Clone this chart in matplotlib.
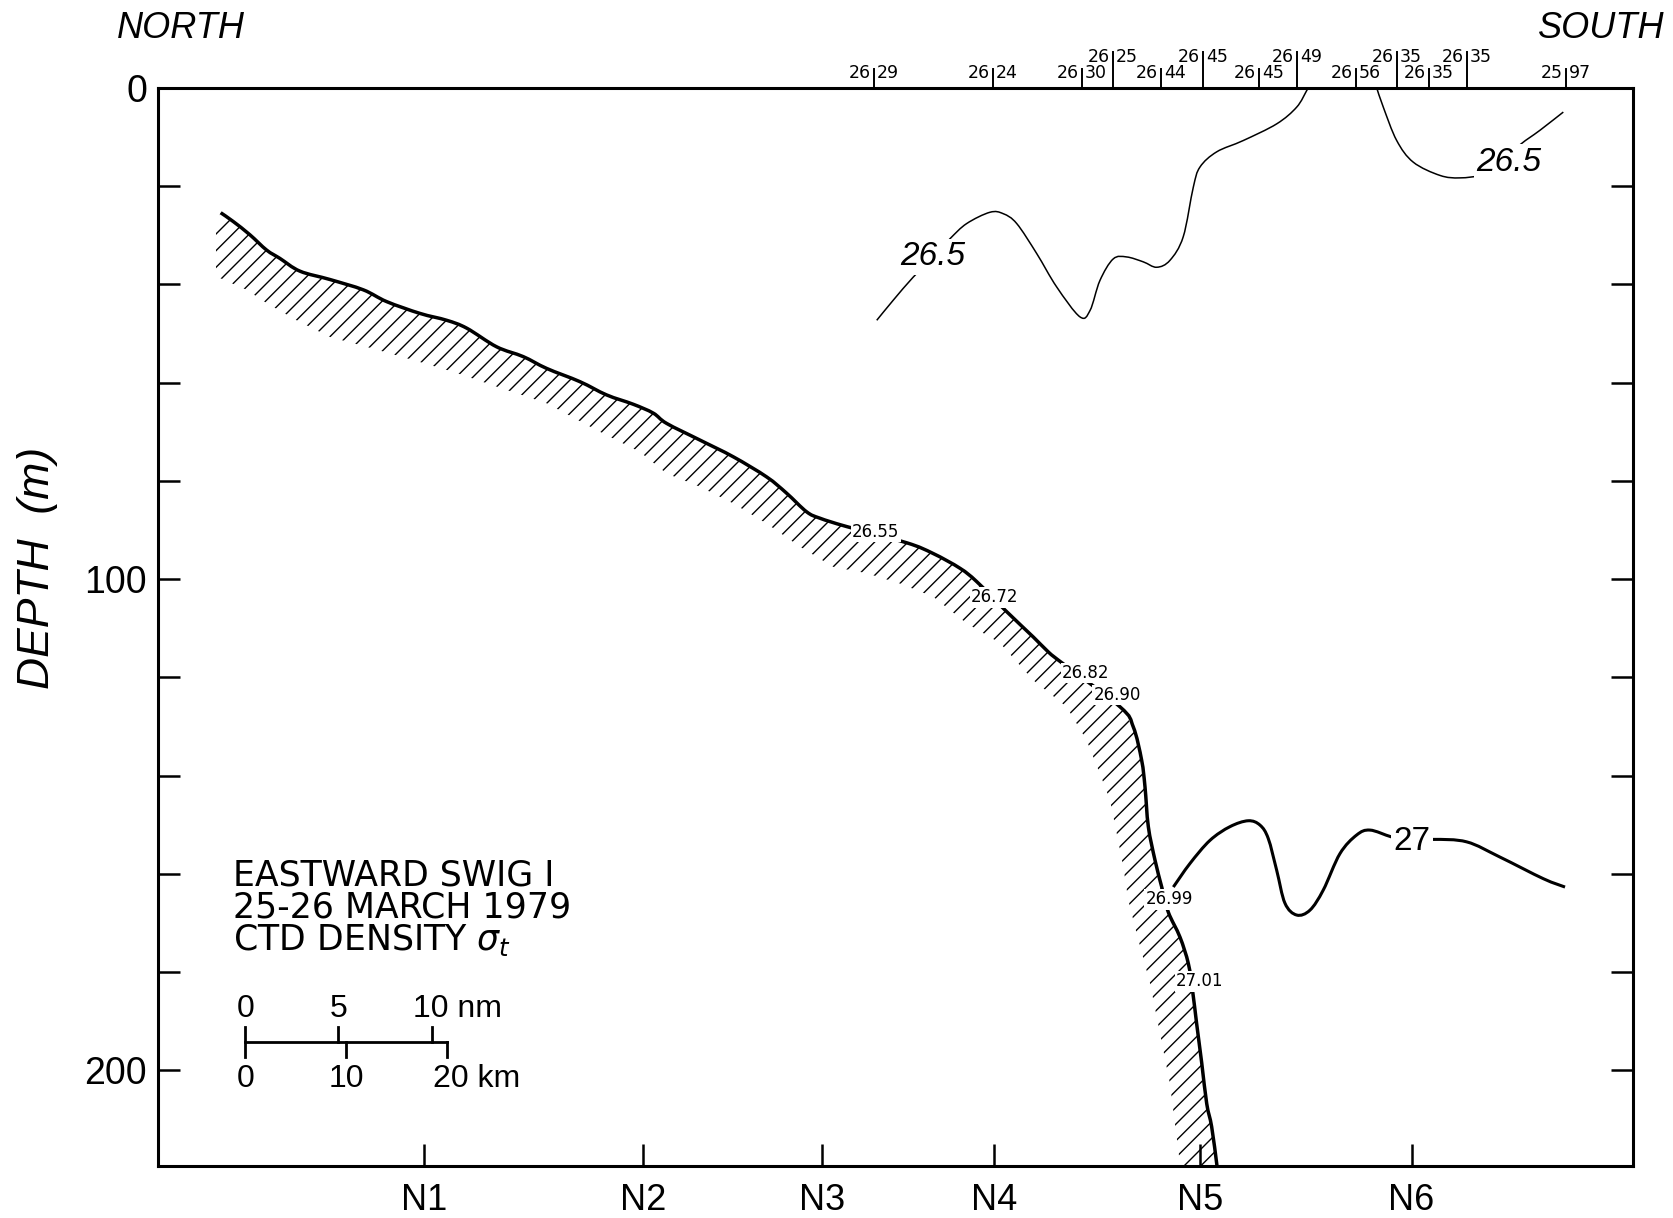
import matplotlib.pyplot as plt
from matplotlib.path import Path
from matplotlib.patches import PathPatch

plt.rcParams['font.family'] = ['DejaVu Sans']
plt.rcParams['hatch.linewidth'] = 1.0
plt.rcParams['mathtext.fontset'] = 'dejavusans'

NARROW = ['Liberation Sans Narrow', 'Liberation Sans', 'DejaVu Sans']

# upper edge of the frontal zone (distance km, depth m)
front_top_km = [6.22, 7.47, 9.12, 10.77, 12.09, 14.08, 17.06, 20.36, 22.68, 25.98,
                28.63, 30.61, 33.58, 36.22, 38.54, 41.84, 44.49, 47.13, 49.11, 50.44,
                53.75, 57.05, 60.36, 62.33, 64.32, 65.64, 68.29, 74.24, 76.88, 79.53,
                81.18, 83.99, 86.80, 88.12, 89.28, 95.39, 96.71, 97.54, 97.87, 98.20,
                98.86, 99.53, 100.18, 101.34, 102.17, 102.60, 102.99, 103.50, 103.99,
                104.48, 104.98, 105.03]
front_top_m = [25.4, 27.2, 29.9, 33.0, 34.7, 37.3, 39.0, 41.1, 43.5, 45.9,
               47.3, 48.9, 52.7, 54.7, 57.1, 59.8, 62.5, 64.4, 66.2, 68.3,
               71.7, 75.1, 79.2, 82.5, 86.3, 87.6, 89.3, 92.6, 94.8, 97.8,
               100.5, 106.3, 111.8, 114.5, 116.5, 126.0, 130.1, 136.9, 142.3, 150.4,
               157.2, 162.7, 167.8, 172.9, 178.3, 184.0, 190.5, 198.6, 206.8,
               211.5, 219.0, 220.0]

# lower edge of the hatched band
front_low_km = [5.75, 5.75, 6.15, 8.80, 10.77, 13.75, 17.06, 20.69, 25.32, 29.28,
                33.58, 38.54, 43.53, 47.79, 50.44, 53.75, 57.05, 60.36, 63.66, 66.96,
                70.27, 73.58, 76.88, 80.19, 83.49, 86.80, 90.10, 92.08, 93.40, 94.40,
                95.07, 95.72, 96.22, 97.05, 98.37, 99.36, 100.34, 101.34, 101.34]
front_low_m = [27.5, 37.1, 38.7, 41.1, 43.8, 47.3, 50.7, 52.7, 55.4, 57.8,
               60.8, 64.2, 69.7, 74.1, 78.5, 81.2, 84.6, 88.7, 93.4, 97.5,
               98.8, 100.9, 103.6, 109.0, 113.0, 120.6, 126.0, 132.8, 139.6, 145.0,
               151.8, 158.6, 165.4, 172.2, 182.3, 192.5, 202.7, 219.0, 220.0]

# sigma-t values written along the front
front_lab_km = [71.19, 82.99, 92.02, 95.09, 100.25, 103.32]
front_lab_m = [90.4, 103.7, 119.1, 123.6, 165.2, 181.9]
front_lab_val = [26.55, 26.72, 26.82, 26.90, 26.99, 27.01]

# 26.5 isopycnal, western branch
iso265a_km = [71.27, 72.91, 74.89, 76.85, 78.53, 80.19, 82.50, 83.82, 85.15, 87.13,
              89.11, 91.42, 92.42, 93.40, 94.72, 96.05, 97.70, 99.03, 100.34, 101.66,
              102.66, 103.32, 104.98, 107.61, 110.93, 112.91, 113.91, 114.06]
iso265a_m = [47.3, 43.2, 38.5, 34.4, 30.7, 27.6, 25.3, 25.6, 27.6, 33.7,
             40.5, 46.6, 45.3, 39.2, 34.8, 34.4, 35.4, 36.5, 35.1, 30.3,
             20.2, 16.1, 13.0, 10.7, 7.3, 3.9, 0.5, 0.0]
# 26.5 isopycnal, eastern branch
iso265b_km = [120.85, 121.50, 122.83, 124.47, 127.12, 129.11, 131.41, 133.97, 134.89,
              137.04, 139.35]
iso265b_m = [0.0, 3.9, 10.7, 15.1, 17.8, 18.3, 17.6, 15.1, 11.9, 8.6, 4.9]
# 27 isopycnal
iso27_km = [100.68, 102.33, 104.31, 106.30, 108.11, 109.28, 110.09, 110.93, 111.75,
            112.91, 114.23, 115.55, 117.20, 118.86, 120.18, 122.33, 124.34, 126.46,
            129.77, 133.07, 137.37, 139.52]
iso27_m = [162.7, 157.9, 153.2, 150.4, 149.2, 150.1, 152.8, 159.3, 166.0,
           168.4, 167.4, 163.3, 155.9, 152.1, 151.1, 152.5, 153.4, 153.0,
           153.5, 156.6, 161.0, 162.7]
iso_labels = [('26.5', 76.85, 34.4), ('26.5', 133.97, 15.1), ('27', 124.34, 153.4)]

# CTD stations and surface sigma-t
station_km = [71.00, 82.80, 91.62, 94.70, 99.46, 103.62, 109.17, 112.94, 118.79,
              122.86, 126.03, 129.80, 139.61]
station_sigma = [26.29, 26.24, 26.30, 26.25, 26.44, 26.45, 26.45, 26.49, 26.56,
                 26.35, 26.35, 26.35, 25.97]
station_raised = [False, False, False, True, False, True, False, True, False,
                  True, False, True, False]

section_km = [26.34, 48.13, 65.80, 82.94, 103.32, 124.30]
section_names = ['N1', 'N2', 'N3', 'N4', 'N5', 'N6']

depth_ticks = list(range(0, 220, 20))
depth_ticklabels = ['0', '', '', '', '', '100', '', '', '', '', '200']


def smooth_curve(xs, ys):
    # cubic Bezier through every point (Catmull-Rom tangents)
    pts = list(zip(xs, ys))
    n = len(pts)
    verts = [pts[0]]
    codes = [Path.MOVETO]
    for i in range(n - 1):
        p0 = pts[max(i - 1, 0)]
        p1 = pts[i]
        p2 = pts[i + 1]
        p3 = pts[min(i + 2, n - 1)]
        c1 = (p1[0] + (p2[0] - p0[0]) / 6, p1[1] + (p2[1] - p0[1]) / 6)
        c2 = (p2[0] - (p3[0] - p1[0]) / 6, p2[1] - (p3[1] - p1[1]) / 6)
        verts += [c1, c2, p2]
        codes += [Path.CURVE4] * 3
    return Path(verts, codes)


def label_box():
    return dict(boxstyle='square,pad=0.08', fc='white', ec='none')


fig = plt.figure(figsize=(16.73, 12.18), dpi=100)
ax = fig.add_axes([0.09444, 0.04269, 0.88165, 0.88506])
ax.set_xlim(0, 146.26)
ax.set_ylim(219.5, 0)

for s in ax.spines.values():
    s.set_linewidth(2.2)

# hatched frontal band and its upper edge
ax.fill(front_top_km + front_low_km[::-1], front_top_m + front_low_m[::-1],
        facecolor='none', edgecolor='black', linewidth=0, hatch='//', zorder=2)
ax.add_patch(PathPatch(smooth_curve(front_top_km, front_top_m), fill=False,
                       ec='black', lw=2.5, zorder=3, capstyle='butt'))
for x, y, v in zip(front_lab_km, front_lab_m, front_lab_val):
    ax.text(x, y, f'{v:.2f}', fontsize=12, ha='center', va='center',
            bbox=label_box(), zorder=4)

# isopycnals
ax.add_patch(PathPatch(smooth_curve(iso265a_km, iso265a_m), fill=False,
                       ec='black', lw=1.1, zorder=3))
ax.add_patch(PathPatch(smooth_curve(iso265b_km, iso265b_m), fill=False,
                       ec='black', lw=1.1, zorder=3))
ax.add_patch(PathPatch(smooth_curve(iso27_km, iso27_m), fill=False,
                       ec='black', lw=2.2, zorder=3))
for txt, x, y in iso_labels:
    ax.text(x, y, txt, fontsize=24, family=NARROW,
            style='normal' if txt == '27' else 'italic',
            ha='center', va='center', bbox=label_box(), zorder=4)

# station markers along the top with surface values
xtrans = ax.get_xaxis_transform()
for x, v, up in zip(station_km, station_sigma, station_raised):
    top = 1.0334 if up else 1.0176
    ty = 1.0283 if up else 1.0135
    ax.plot([x, x], [1.0, top], color='black', lw=1.4, transform=xtrans,
            clip_on=False)
    whole, frac = f'{v:.2f}'.split('.')
    ax.annotate(whole, xy=(x, ty), xycoords=xtrans, xytext=(-2, 0),
                textcoords='offset points', ha='right', va='center', fontsize=12.5)
    ax.annotate(frac, xy=(x, ty), xycoords=xtrans, xytext=(2, 0),
                textcoords='offset points', ha='left', va='center', fontsize=12.5)

# axes ticks
ax.set_yticks(depth_ticks)
ax.set_yticklabels(depth_ticklabels, family=NARROW, fontsize=27)
ax.set_xticks(section_km)
ax.set_xticklabels(section_names, family=NARROW, fontsize=26)
ax.tick_params(axis='y', direction='in', length=16, width=1.8, left=True,
               right=True, pad=8)
ax.tick_params(axis='x', direction='in', length=16, width=1.8, bottom=True,
               top=False, pad=12)

fig.text(0.0227, 0.5337, 'DEPTH  (m)', rotation=90, ha='center', va='center',
         family=NARROW, style='italic', fontsize=32)
fig.text(0.1082, 0.977, 'NORTH', ha='center', va='center', family=NARROW,
         style='italic', fontsize=26)
fig.text(0.995, 0.977, 'SOUTH', ha='right', va='center', family=NARROW,
         style='italic', fontsize=26)

# title block (baseline of the last line)
ax.text(7.44, 175.6, 'EASTWARD SWIG I\n25-26 MARCH 1979\n'
        r'CTD DENSITY $\sigma_t$', fontsize=25, va='baseline', ha='left',
        linespacing=0.93)

# scale bar: nautical miles above, kilometres below
bar_x0 = 8.63
bar_y = 194.2
nm_km = 1.852
ax.plot([bar_x0, bar_x0 + 20], [bar_y, bar_y], color='black', lw=2.0)
ax.plot([bar_x0, bar_x0], [191.2, 197.3], color='black', lw=2.0)
for n in (5, 10):
    ax.plot([bar_x0 + n * nm_km] * 2, [191.2, bar_y], color='black', lw=2.0)
for k in (10, 20):
    ax.plot([bar_x0 + k] * 2, [bar_y, 197.3], color='black', lw=2.0)
ax.text(bar_x0 + 0.1, 189.1, '0', family=NARROW, fontsize=23, ha='center', va='baseline')
ax.text(bar_x0 + 5 * nm_km, 189.1, '5', family=NARROW, fontsize=23, ha='center', va='baseline')
ax.text(25.28, 189.1, '10 nm', family=NARROW, fontsize=23, ha='left', va='baseline')
ax.text(bar_x0 + 0.1, 203.4, '0', family=NARROW, fontsize=23, ha='center', va='baseline')
ax.text(bar_x0 + 10, 203.4, '10', family=NARROW, fontsize=23, ha='center', va='baseline')
ax.text(27.27, 203.4, '20 km', family=NARROW, fontsize=23, ha='left', va='baseline')

fig.savefig('out.png', dpi=100)
